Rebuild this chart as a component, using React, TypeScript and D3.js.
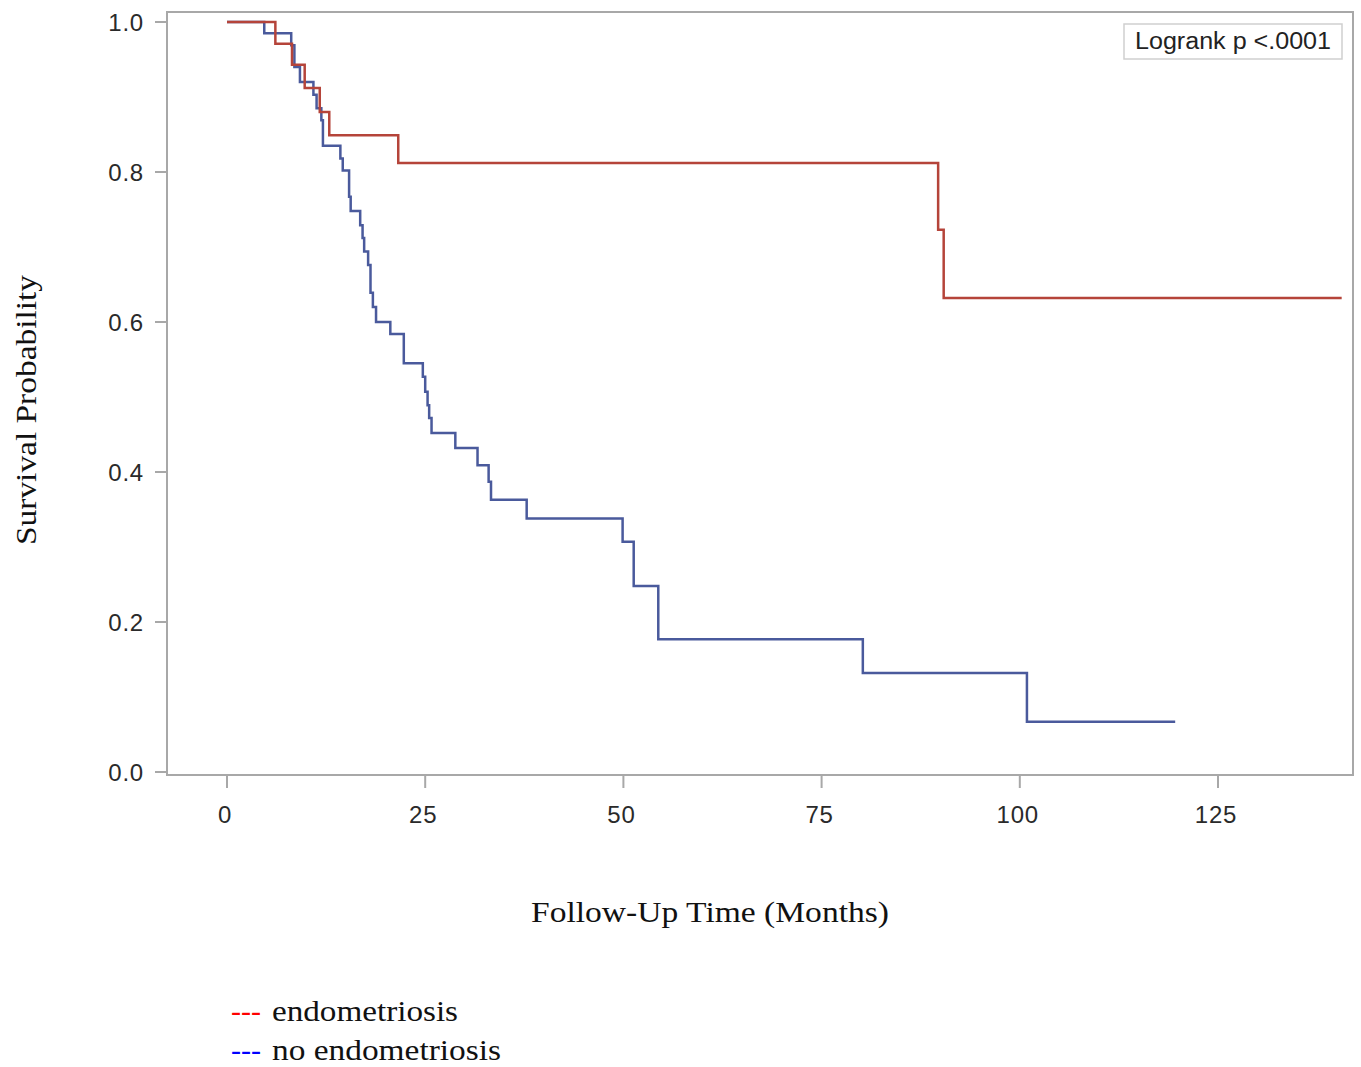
import React, { useEffect, useRef } from 'react';
import * as d3 from 'd3';

// Kaplan-Meier step data (months, survival)
const endoTimes = [0, 6.1, 8.2, 9.8, 11.7, 12.9, 21.6, 89.7, 90.4];
const endoSurv = [1, 0.971, 0.943, 0.912, 0.88, 0.849, 0.812, 0.723, 0.632];
const endoLast = 140.6;

const noEndoTimes = [
  0, 4.7, 8.1, 8.5, 9.2, 10.9, 11.3, 11.9, 12.1, 14.3, 14.6, 15.4, 15.6, 16.8,
  17.1, 17.3, 17.8, 18.1, 18.4, 18.8, 20.6, 22.3, 24.7, 25.0, 25.3, 25.5, 25.8,
  28.8, 31.6, 33.0, 33.3, 37.8, 49.9, 51.3, 54.4, 80.2, 100.9,
];
const noEndoSurv = [
  1, 0.985, 0.969, 0.94, 0.92, 0.903, 0.885, 0.869, 0.835, 0.818, 0.802, 0.767,
  0.748, 0.729, 0.712, 0.694, 0.676, 0.639, 0.62, 0.6, 0.584, 0.545, 0.527,
  0.507, 0.489, 0.472, 0.452, 0.432, 0.409, 0.387, 0.363, 0.338, 0.307, 0.248,
  0.177, 0.132, 0.067,
];
const noEndoLast = 119.6;

const xTicks = [0, 25, 50, 75, 100, 125];
const yTicks = [0, 0.2, 0.4, 0.6, 0.8, 1.0];

const legendLabels = ['endometriosis', 'no endometriosis'];
const legendColors = ['#ff0000', '#0000ff'];

const App = () => {
  const ref = useRef<SVGSVGElement>(null);

  useEffect(() => {
    const svg = d3.select(ref.current);
    svg.selectAll('*').remove();

    const W = 1361;
    const H = 1067;
    const frame = { left: 167, right: 1353, top: 12, bottom: 775 };

    // x: 0 at 227, 125 at 1218
    const x = d3.scaleLinear().domain([0, 125]).range([227, 1218]);
    const y = d3.scaleLinear().domain([0, 1]).range([772, 22]);

    svg.attr('width', W).attr('height', H);
    svg.append('rect').attr('width', W).attr('height', H).attr('fill', '#fff');

    // plot frame
    svg.append('rect')
      .attr('x', frame.left)
      .attr('y', frame.top)
      .attr('width', frame.right - frame.left)
      .attr('height', frame.bottom - frame.top)
      .attr('fill', 'none')
      .attr('stroke', '#a8a8a8')
      .attr('stroke-width', 2);

    const tickFont = '"Liberation Sans", Arial, sans-serif';

    // y axis ticks
    svg.selectAll('.ytick')
      .data(yTicks)
      .enter()
      .append('line')
      .attr('x1', frame.left - 12)
      .attr('x2', frame.left)
      .attr('y1', d => y(d))
      .attr('y2', d => y(d))
      .attr('stroke', '#a8a8a8')
      .attr('stroke-width', 2);

    svg.selectAll('.ylab')
      .data(yTicks)
      .enter()
      .append('text')
      .attr('x', 144)
      .attr('y', d => y(d))
      .attr('dy', '0.36em')
      .attr('text-anchor', 'end')
      .attr('font-family', tickFont)
      .attr('font-size', 24)
      .attr('letter-spacing', 0.8)
      .attr('fill', '#2a2a2a')
      .text(d => d.toFixed(1));

    // x axis ticks
    svg.selectAll('.xtick')
      .data(xTicks)
      .enter()
      .append('line')
      .attr('x1', d => x(d))
      .attr('x2', d => x(d))
      .attr('y1', frame.bottom)
      .attr('y2', frame.bottom + 13)
      .attr('stroke', '#a8a8a8')
      .attr('stroke-width', 2);

    svg.selectAll('.xlab')
      .data(xTicks)
      .enter()
      .append('text')
      .attr('x', d => x(d) - 2)
      .attr('y', 814)
      .attr('dy', '0.36em')
      .attr('text-anchor', 'middle')
      .attr('font-family', tickFont)
      .attr('font-size', 24)
      .attr('letter-spacing', 0.8)
      .attr('fill', '#2a2a2a')
      .text(d => String(d));

    // survival curves
    const line = d3.line<[number, number]>()
      .x(d => x(d[0]))
      .y(d => y(d[1]))
      .curve(d3.curveStepAfter);

    const endoPts: [number, number][] = endoTimes.map((t, i) => [t, endoSurv[i]]);
    endoPts.push([endoLast, endoSurv[endoSurv.length - 1]]);
    const noEndoPts: [number, number][] = noEndoTimes.map((t, i) => [t, noEndoSurv[i]]);
    noEndoPts.push([noEndoLast, noEndoSurv[noEndoSurv.length - 1]]);

    svg.append('path')
      .attr('d', line(noEndoPts))
      .attr('fill', 'none')
      .attr('stroke', '#4a5a9c')
      .attr('stroke-width', 2.5);

    svg.append('path')
      .attr('d', line(endoPts))
      .attr('fill', 'none')
      .attr('stroke', '#b5443a')
      .attr('stroke-width', 2.5);

    // logrank inset
    svg.append('rect')
      .attr('x', 1124)
      .attr('y', 24)
      .attr('width', 218)
      .attr('height', 35)
      .attr('fill', '#fff')
      .attr('stroke', '#cfcfcf')
      .attr('stroke-width', 1.5);
    svg.append('text')
      .attr('x', 1233)
      .attr('y', 41)
      .attr('dy', '0.36em')
      .attr('text-anchor', 'middle')
      .attr('font-family', tickFont)
      .attr('font-size', 23)
      .attr('textLength', 196)
      .attr('lengthAdjust', 'spacingAndGlyphs')
      .attr('fill', '#222')
      .text('Logrank p <.0001');

    const serif = '"Liberation Serif", "Times New Roman", serif';

    // axis titles
    svg.append('text')
      .attr('transform', 'translate(25,410) rotate(-90)')
      .attr('text-anchor', 'middle')
      .attr('dy', '0.35em')
      .attr('font-family', serif)
      .attr('font-size', 30)
      .attr('textLength', 270)
      .attr('lengthAdjust', 'spacingAndGlyphs')
      .attr('fill', '#111')
      .text('Survival Probability');

    svg.append('text')
      .attr('x', 710)
      .attr('y', 911)
      .attr('dy', '0.35em')
      .attr('text-anchor', 'middle')
      .attr('font-family', serif)
      .attr('font-size', 30)
      .attr('textLength', 358)
      .attr('lengthAdjust', 'spacingAndGlyphs')
      .attr('fill', '#111')
      .text('Follow-Up Time (Months)');

    // legend
    const lg = svg.selectAll('.lg')
      .data(legendLabels)
      .enter()
      .append('g')
      .attr('transform', (d, i) => `translate(231,${1010 + i * 39})`);

    lg.append('text')
      .attr('x', 0)
      .attr('dy', '0.35em')
      .attr('font-family', serif)
      .attr('font-size', 30)
      .attr('fill', (d, i) => legendColors[i])
      .text('---');

    lg.append('text')
      .attr('x', 41)
      .attr('dy', '0.35em')
      .attr('font-family', serif)
      .attr('font-size', 30)
      .attr('textLength', (d, i) => (i === 0 ? 186 : 229))
      .attr('lengthAdjust', 'spacingAndGlyphs')
      .attr('fill', '#111')
      .text(d => d);
  }, []);

  return (
    <svg
      ref={ref}
      style={{ position: 'absolute', left: 0, top: 0, display: 'block' }}
    />
  );
};

export default App;
